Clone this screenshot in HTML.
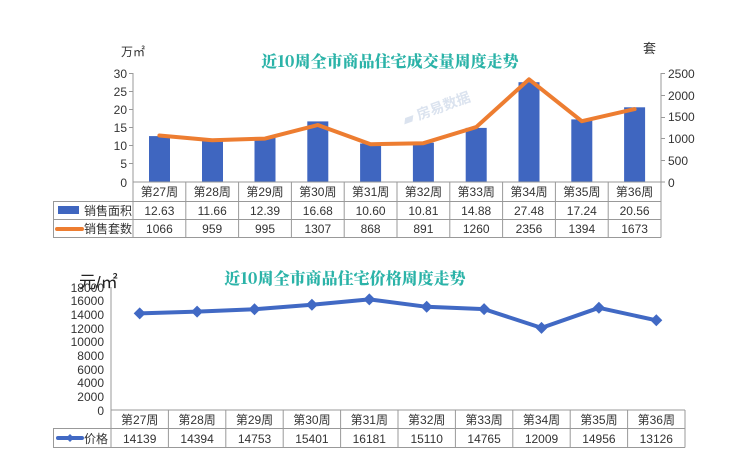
<!DOCTYPE html>
<html><head><meta charset="utf-8"><style>
html,body{margin:0;padding:0;background:#fff;}
svg{display:block;font-family:"Liberation Sans","Noto Sans CJK SC",sans-serif;}
</style></head><body>
<svg width="740" height="474" viewBox="0 0 740 474" xmlns="http://www.w3.org/2000/svg">
<rect width="740" height="474" fill="#fff"/>
<!-- TOP CHART -->
<text x="390" y="67" text-anchor="middle" font-size="16" font-weight="900" fill="#2bb3a8" font-family="'Noto Serif CJK SC','Noto Sans CJK SC',serif">近10周全市商品住宅成交量周度走势</text>
<text x="121" y="56" font-size="12" fill="#333">万㎡</text>
<text x="643" y="53" font-size="13" fill="#333">套</text>
<text x="405" y="125" font-size="14" font-weight="bold" fill="#dbe3ef" transform="rotate(-20 405 125)">▰ 房易数据</text>
<g font-size="12" fill="#333" text-anchor="end">
<text x="127" y="78">30</text><text x="127" y="96">25</text><text x="127" y="114">20</text><text x="127" y="132">15</text><text x="127" y="150">10</text><text x="127" y="168">5</text><text x="127" y="187">0</text>
</g>
<g font-size="12" fill="#333">
<text x="668" y="78">2500</text><text x="668" y="100">2000</text><text x="668" y="121">1500</text><text x="668" y="143">1000</text><text x="668" y="165">500</text><text x="668" y="187">0</text>
</g>
<g stroke="#999" stroke-width="1">
<line x1="133" y1="73" x2="133" y2="182"/>
<line x1="661" y1="73" x2="661" y2="182"/>
<line x1="129" y1="73.5" x2="133" y2="73.5"/><line x1="129" y1="91.5" x2="133" y2="91.5"/><line x1="129" y1="109.5" x2="133" y2="109.5"/><line x1="129" y1="127.5" x2="133" y2="127.5"/><line x1="129" y1="145.5" x2="133" y2="145.5"/><line x1="129" y1="163.5" x2="133" y2="163.5"/>
<line x1="661" y1="73.5" x2="665" y2="73.5"/><line x1="661" y1="95.5" x2="665" y2="95.5"/><line x1="661" y1="117.5" x2="665" y2="117.5"/><line x1="661" y1="138.5" x2="665" y2="138.5"/><line x1="661" y1="160.5" x2="665" y2="160.5"/><line x1="661" y1="182" x2="665" y2="182"/>
</g>
<g fill="#3f66c0">
<rect x="149" y="136.1" width="21" height="45.9"/>
<rect x="202" y="139.6" width="21" height="42.4"/>
<rect x="254.5" y="137" width="21" height="45"/>
<rect x="307.3" y="121.4" width="21" height="60.6"/>
<rect x="360.1" y="143.5" width="21" height="38.5"/>
<rect x="412.9" y="142.7" width="21" height="39.3"/>
<rect x="465.7" y="127.9" width="21" height="54.1"/>
<rect x="518.5" y="82.2" width="21" height="99.8"/>
<rect x="571.3" y="119.4" width="21" height="62.6"/>
<rect x="624.1" y="107.3" width="21" height="74.7"/>
</g>
<polyline fill="none" stroke="#ed7d31" stroke-width="4" stroke-linejoin="round" stroke-linecap="round" points="159.4,135.5 212.2,140.2 265,138.6 317.8,125 370.6,144.2 423.4,143.2 476.2,127.1 529,79.3 581.8,121.2 634.6,109.1"/>
<!-- top table -->
<g stroke="#999" stroke-width="1" fill="none">
<line x1="133" y1="182" x2="661" y2="182"/>
<line x1="53" y1="201.5" x2="661" y2="201.5"/>
<line x1="53" y1="219.5" x2="661" y2="219.5"/>
<line x1="53" y1="237.5" x2="661" y2="237.5"/>
<line x1="53.5" y1="201.5" x2="53.5" y2="237.5"/>
<line x1="133" y1="182" x2="133" y2="237.5"/><line x1="185.8" y1="182" x2="185.8" y2="237.5"/><line x1="238.6" y1="182" x2="238.6" y2="237.5"/><line x1="291.4" y1="182" x2="291.4" y2="237.5"/><line x1="344.2" y1="182" x2="344.2" y2="237.5"/><line x1="397" y1="182" x2="397" y2="237.5"/><line x1="449.8" y1="182" x2="449.8" y2="237.5"/><line x1="502.6" y1="182" x2="502.6" y2="237.5"/><line x1="555.4" y1="182" x2="555.4" y2="237.5"/><line x1="608.2" y1="182" x2="608.2" y2="237.5"/><line x1="661" y1="182" x2="661" y2="237.5"/>
</g>
<rect x="58" y="206" width="21" height="8" fill="#3f66c0"/>
<line x1="57" y1="229" x2="82" y2="229" stroke="#ed7d31" stroke-width="4" stroke-linecap="round"/>
<g font-size="12" fill="#333">
<text x="84" y="215">销售面积</text><text x="84" y="233">销售套数</text>
</g>
<g font-size="12" fill="#333" text-anchor="middle">
<text x="159.4" y="196">第27周</text><text x="212.2" y="196">第28周</text><text x="265" y="196">第29周</text><text x="317.8" y="196">第30周</text><text x="370.6" y="196">第31周</text><text x="423.4" y="196">第32周</text><text x="476.2" y="196">第33周</text><text x="529" y="196">第34周</text><text x="581.8" y="196">第35周</text><text x="634.6" y="196">第36周</text>
<text x="159.4" y="215">12.63</text><text x="212.2" y="215">11.66</text><text x="265" y="215">12.39</text><text x="317.8" y="215">16.68</text><text x="370.6" y="215">10.60</text><text x="423.4" y="215">10.81</text><text x="476.2" y="215">14.88</text><text x="529" y="215">27.48</text><text x="581.8" y="215">17.24</text><text x="634.6" y="215">20.56</text>
<text x="159.4" y="233">1066</text><text x="212.2" y="233">959</text><text x="265" y="233">995</text><text x="317.8" y="233">1307</text><text x="370.6" y="233">868</text><text x="423.4" y="233">891</text><text x="476.2" y="233">1260</text><text x="529" y="233">2356</text><text x="581.8" y="233">1394</text><text x="634.6" y="233">1673</text>
</g>
<!-- BOTTOM CHART -->
<text x="345" y="284" text-anchor="middle" font-size="16" font-weight="900" fill="#2bb3a8" font-family="'Noto Serif CJK SC','Noto Sans CJK SC',serif">近10周全市商品住宅价格周度走势</text>
<text x="79" y="288" font-size="17" fill="#222">元/㎡</text>
<g font-size="12" fill="#333" text-anchor="end">
<text x="104" y="292">18000</text><text x="104" y="305">16000</text><text x="104" y="319">14000</text><text x="104" y="333">12000</text><text x="104" y="346">10000</text><text x="104" y="360">8000</text><text x="104" y="374">6000</text><text x="104" y="387">4000</text><text x="104" y="401">2000</text><text x="104" y="415">0</text>
</g>
<line x1="111" y1="287" x2="111" y2="410" stroke="#999"/>
<polyline fill="none" stroke="#4169c4" stroke-width="4" stroke-linejoin="round" points="139.7,313.4 197.1,311.6 254.5,309.2 311.9,304.8 369.3,299.4 426.7,306.8 484.1,309.1 541.5,327.9 598.9,307.8 656.3,320.3"/>
<g fill="#4169c4">
<polygon points="139.7,307.4 145.7,313.4 139.7,319.4 133.7,313.4"/>
<polygon points="197.1,305.6 203.1,311.6 197.1,317.6 191.1,311.6"/>
<polygon points="254.5,303.2 260.5,309.2 254.5,315.2 248.5,309.2"/>
<polygon points="311.9,298.8 317.9,304.8 311.9,310.8 305.9,304.8"/>
<polygon points="369.3,293.4 375.3,299.4 369.3,305.4 363.3,299.4"/>
<polygon points="426.7,300.8 432.7,306.8 426.7,312.8 420.7,306.8"/>
<polygon points="484.1,303.1 490.1,309.1 484.1,315.1 478.1,309.1"/>
<polygon points="541.5,321.9 547.5,327.9 541.5,333.9 535.5,327.9"/>
<polygon points="598.9,301.8 604.9,307.8 598.9,313.8 592.9,307.8"/>
<polygon points="656.3,314.3 662.3,320.3 656.3,326.3 650.3,320.3"/>
</g>
<g stroke="#999" stroke-width="1" fill="none">
<line x1="111" y1="410" x2="685" y2="410"/>
<line x1="53" y1="428.5" x2="685" y2="428.5"/>
<line x1="53" y1="447.5" x2="685" y2="447.5"/>
<line x1="53.5" y1="428.5" x2="53.5" y2="447.5"/>
<line x1="111" y1="410" x2="111" y2="447.5"/><line x1="168.4" y1="410" x2="168.4" y2="447.5"/><line x1="225.8" y1="410" x2="225.8" y2="447.5"/><line x1="283.2" y1="410" x2="283.2" y2="447.5"/><line x1="340.6" y1="410" x2="340.6" y2="447.5"/><line x1="398" y1="410" x2="398" y2="447.5"/><line x1="455.4" y1="410" x2="455.4" y2="447.5"/><line x1="512.8" y1="410" x2="512.8" y2="447.5"/><line x1="570.2" y1="410" x2="570.2" y2="447.5"/><line x1="627.6" y1="410" x2="627.6" y2="447.5"/><line x1="685" y1="410" x2="685" y2="447.5"/>
</g>
<line x1="58" y1="438" x2="82" y2="438" stroke="#4169c4" stroke-width="4" stroke-linecap="round"/>
<polygon points="70,434 74,438 70,442 66,438" fill="#4169c4"/>
<text x="84" y="443" font-size="12" fill="#333">价格</text>
<g font-size="12" fill="#333" text-anchor="middle">
<text x="139.7" y="424">第27周</text><text x="197.1" y="424">第28周</text><text x="254.5" y="424">第29周</text><text x="311.9" y="424">第30周</text><text x="369.3" y="424">第31周</text><text x="426.7" y="424">第32周</text><text x="484.1" y="424">第33周</text><text x="541.5" y="424">第34周</text><text x="598.9" y="424">第35周</text><text x="656.3" y="424">第36周</text>
<text x="139.7" y="443">14139</text><text x="197.1" y="443">14394</text><text x="254.5" y="443">14753</text><text x="311.9" y="443">15401</text><text x="369.3" y="443">16181</text><text x="426.7" y="443">15110</text><text x="484.1" y="443">14765</text><text x="541.5" y="443">12009</text><text x="598.9" y="443">14956</text><text x="656.3" y="443">13126</text>
</g>
</svg>
</body></html>
